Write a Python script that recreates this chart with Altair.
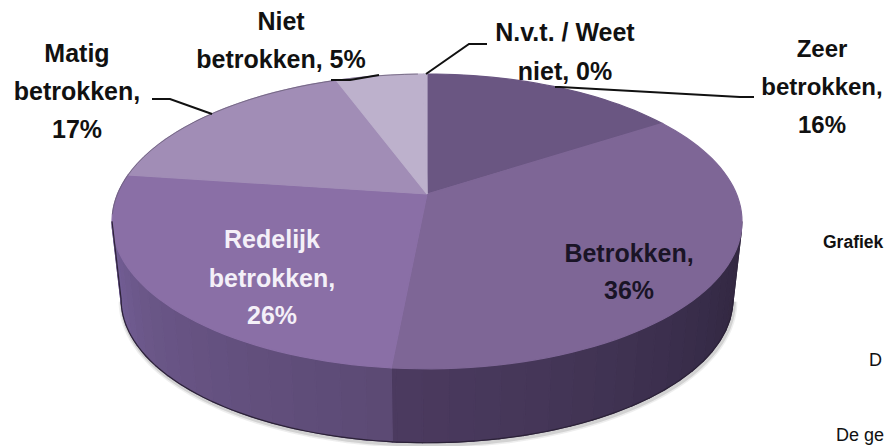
import math
import altair as alt
import pandas as pd

# ---- values
categories = ["Zeer betrokken", "Betrokken", "Redelijk betrokken", "Matig betrokken", "Niet betrokken", "N.v.t. / Weet niet"]
shares = [15.8, 35.7, 25.7, 17.2, 5.4, 0.2]
top_colors = ["#6a5682", "#7e6696", "#8a6fa6", "#a18db6", "#bdb1cc", "#bdb1cc"]
wall_left = ["#75609a", "#6b5788", "#63507e", "#5c4a74"]
wall_right = ["#4c3b60", "#463759", "#3e3150", "#362b47", "#33283f"]

label_lines = ["Matig", "betrokken,", "17%", "Niet", "betrokken, 5%", "N.v.t. / Weet", "niet, 0%",
               "Zeer", "betrokken,", "16%", "Redelijk", "betrokken,", "26%", "Betrokken,", "36%",
               "Grafiek", "D", "De ge"]

# ---- layout of the picture (pixel space of the 893x446 image)
W, H, M = 893, 446, 8
CX, CY, A, B, P = 427, 194, 309.5, 142.3, 0.186
label_x = [77, 77, 77, 281, 281, 565, 565, 822, 822, 822, 272, 272, 272, 629, 629, 823, 869, 836]
label_y = [54, 92, 130, 22, 60, 33, 72, 50, 88, 126, 240, 279, 316, 254, 291, 243, 361, 436]
label_group = ["c"] * 7 + ["z"] * 3 + ["c"] * 5 + ["g", "d", "d"]
label_color = ["#111111"] * 10 + ["#f4f0f8"] * 3 + ["#1a1426"] * 2 + ["#111111"] * 3
leaders = [[(152, 99), (170, 99), (212, 114)], [(331, 80), (350, 80), (379, 75)],
           [(487, 44), (469, 44), (426, 74)], [(754, 97), (740, 97), (560, 87), (555, 87)]]


def rim(deg, scale=1.0, y0=CY):
    t = math.radians(deg)
    u, v = math.sin(t), math.cos(t)
    w = 1 + P * v
    return CX + A * scale * u / w, y0 - B * scale * v / w


def mix(colors, f):
    f = max(0.0, min(0.9999, f)) * (len(colors) - 1)
    i = int(f)
    a, b = colors[i], colors[i + 1]
    ch = [int(a[k:k + 2], 16) + (f - i) * (int(b[k:k + 2], 16) - int(a[k:k + 2], 16)) for k in (1, 3, 5)]
    return "#%02x%02x%02x" % tuple(int(c) for c in ch)


bottom = lambda d: rim(d, 0.971, 273)
rows = []
cum = [0]
for s in shares:
    cum.append(cum[-1] + s * 3.6)
split = cum[2]

# side wall, in vertical bands
gid = 0
d = 100.7
END = 259.3
STEP = 4.0
while d < END - 0.01:
    n = min(d + STEP, END)
    if d < split < n:
        n = split
    mid = (d + n) / 2
    col = mix(wall_right, (split - mid) / (split - 100.7)) if mid < split else mix(wall_left, (END - mid) / (END - split))
    pts = [rim(x) for x in (d, n)] + [bottom(x) for x in (n, d)]
    for i, (x, y) in enumerate(pts + pts[:1]):
        rows.append(dict(g=gid, i=i, x=x, y=y, fill=col))
    gid += 1
    d = n

# top surface slices
for k in range(len(shares)):
    pts = [(CX, CY)]
    a0, a1 = cum[k], cum[k + 1]
    steps = max(2, int((a1 - a0) / 2))
    pts += [rim(a0 + (a1 - a0) * j / steps) for j in range(steps + 1)]
    for i, (x, y) in enumerate(pts + pts[:1]):
        rows.append(dict(g=gid, i=i, x=x, y=y, fill=top_colors[k]))
    gid += 1

poly = pd.DataFrame(rows)

outer = pd.DataFrame([dict(i=j, x=bottom(100.7 + (END - 100.7) * j / 100)[0], y=bottom(100.7 + (END - 100.7) * j / 100)[1]) for j in range(101)])
shade = outer.assign(x=outer.x + 1, y=outer.y + 2)
top_left = pd.DataFrame([dict(i=j, x=rim(a)[0], y=rim(a)[1]) for j, a in enumerate(range(262, 360, 3))])
side = pd.DataFrame([dict(i=0, x=rim(END)[0], y=rim(END)[1]), dict(i=1, x=bottom(END)[0], y=bottom(END)[1])])

lead = pd.DataFrame([dict(g=g, i=i, x=p[0], y=p[1]) for g, l in enumerate(leaders) for i, p in enumerate(l)])
labels = pd.DataFrame(dict(t=label_lines, x=label_x, y=label_y, a=label_group, c=label_color))

X = alt.X("x:Q", scale=alt.Scale(domain=[M, W - M], range=[0, W - 2 * M]), axis=None)
Y = alt.Y("y:Q", scale=alt.Scale(domain=[M, H], range=[0, H - M]), axis=None)

shadow = [
    alt.Chart(shade).mark_line(stroke="#555555", strokeWidth=w, opacity=o).encode(x=X, y=Y, order="i:Q")
    for w, o in [(7, 0.10), (4, 0.18)]
]
polys = alt.Chart(poly).mark_line(strokeWidth=1.2).encode(
    x=X, y=Y, detail="g:N", order="i:Q",
    fill=alt.Fill("fill:N", scale=None), stroke=alt.Stroke("fill:N", scale=None))
edge = alt.Chart(outer).mark_line(stroke="#2c2238", strokeWidth=1.2).encode(x=X, y=Y, order="i:Q")
edge2 = alt.Chart(top_left).mark_line(stroke="#6b6078", strokeWidth=0.8).encode(x=X, y=Y, order="i:Q")
edge3 = alt.Chart(side).mark_line(stroke="#2c2238", strokeWidth=1.2).encode(x=X, y=Y, order="i:Q")
lines = alt.Chart(lead).mark_line(stroke="#111111", strokeWidth=2).encode(x=X, y=Y, detail="g:N", order="i:Q")

styles = {"c": dict(align="center", fontWeight="bold", fontSize=25),
          "z": dict(align="center", fontWeight="bold", fontSize=24),
          "g": dict(align="left", fontWeight="bold", fontSize=17.5),
          "d": dict(align="left", fontWeight="normal", fontSize=18)}
texts = [
    alt.Chart(labels[labels.a == key]).mark_text(font="Liberation Sans", baseline="middle", **st).encode(
        x=X, y=Y, text="t:N", color=alt.Color("c:N", scale=None))
    for key, st in styles.items()
]

chart = alt.layer(*shadow, polys, edge, edge2, edge3, lines, *texts).properties(
    width=W - 2 * M, height=H - M, padding=0, autosize=alt.AutoSizeParams(type="none")
).configure_view(stroke=None)

chart.save("out.html", embed_options={"renderer": "svg", "actions": False})
